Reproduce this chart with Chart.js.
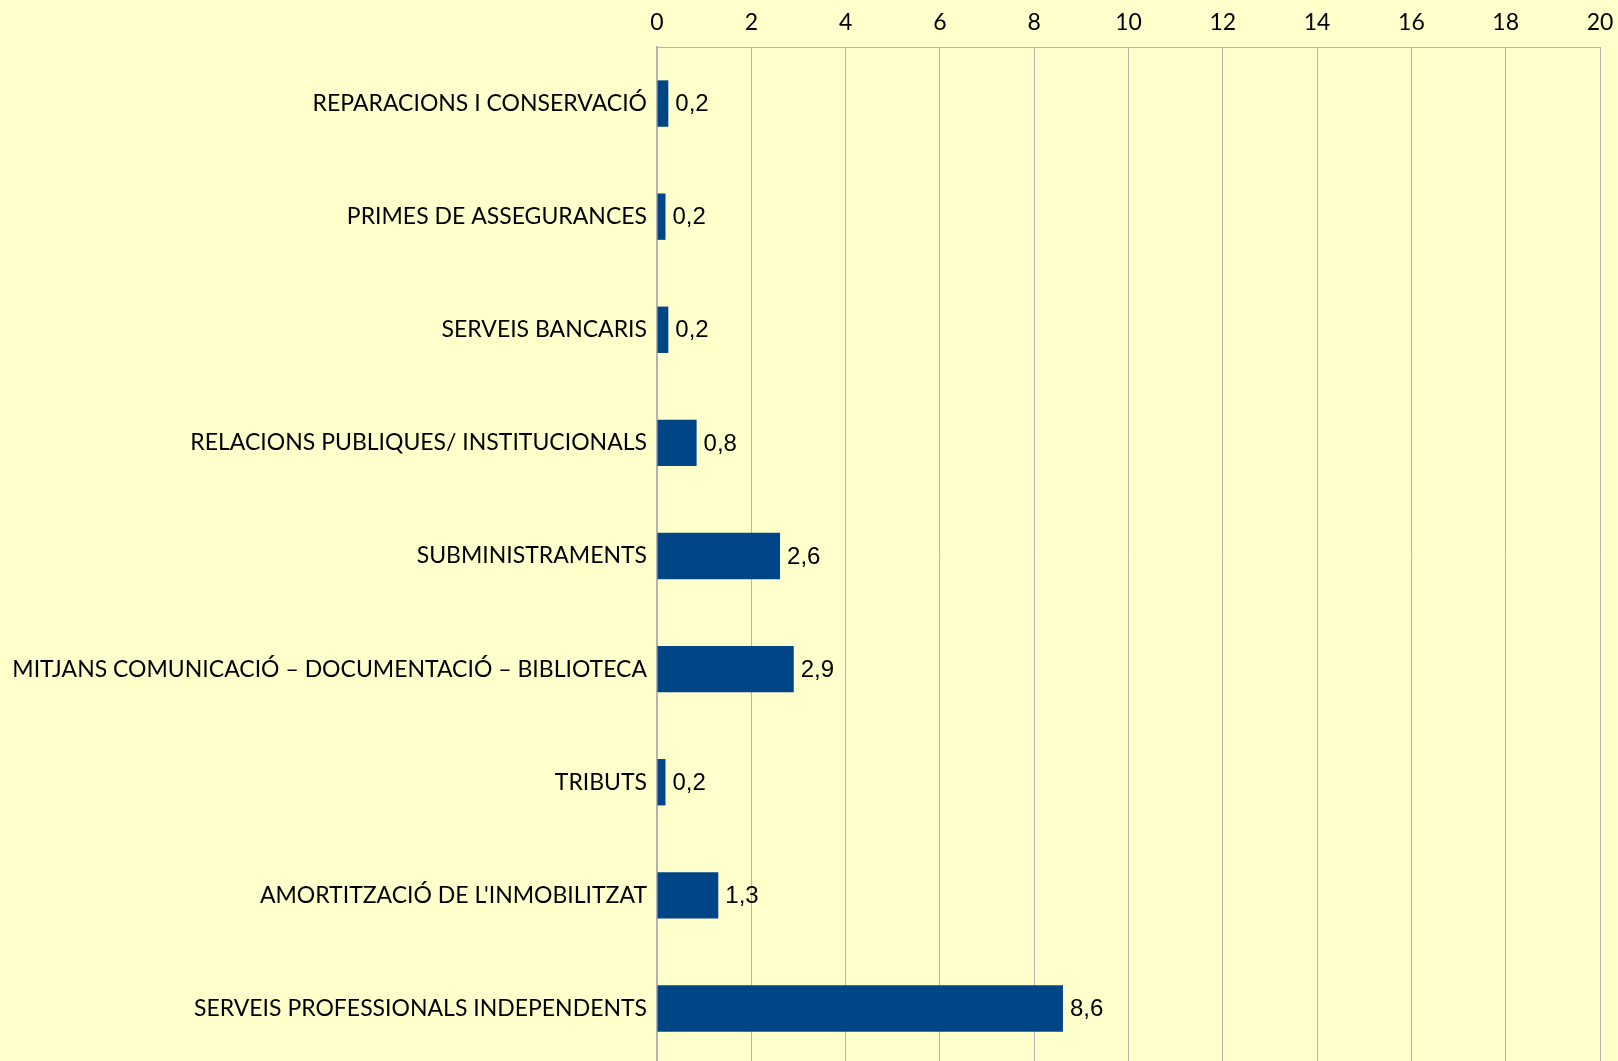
<!DOCTYPE html>
<html>
<head>
<meta charset="utf-8">
<script src="https://cdn.jsdelivr.net/npm/chart.js@4/dist/chart.umd.min.js"></script>
<style>
  html, body {
    margin: 0;
    padding: 0;
    background: #ffffcc;
    overflow: hidden;
    width: 1618px;
    height: 1061px;
  }
  .chart-wrap {
    position: relative;
    width: 1618px;
    height: 1065px;
  }
</style>
</head>
<body>
<div class="chart-wrap"><canvas id="chart"></canvas></div>
<script>
// categories, top to bottom
const categories = [
  'REPARACIONS I CONSERVACIÓ',
  'PRIMES DE ASSEGURANCES',
  'SERVEIS BANCARIS',
  'RELACIONS PUBLIQUES/ INSTITUCIONALS',
  'SUBMINISTRAMENTS',
  'MITJANS COMUNICACIÓ – DOCUMENTACIÓ – BIBLIOTECA',
  'TRIBUTS',
  "AMORTITZACIÓ DE L'INMOBILITZAT",
  'SERVEIS PROFESSIONALS INDEPENDENTS'
];

// values
const values = [0.24, 0.18, 0.24, 0.84, 2.61, 2.9, 0.18, 1.3, 8.61];

const axisMin = 0;
const axisMax = 20;
const axisStep = 2;

// value labels next to the bars, "0,2" style
const valueLabels = {
  id: 'valueLabels',
  afterDatasetsDraw(chart) {
    const ctx = chart.ctx;
    const meta = chart.getDatasetMeta(0);
    ctx.save();
    ctx.font = '24px "Liberation Sans", Arial, sans-serif';
    ctx.fillStyle = '#000';
    ctx.textAlign = 'left';
    ctx.textBaseline = 'middle';
    meta.data.forEach((bar, i) => {
      const txt = values[i].toFixed(1).replace('.', ',');
      ctx.fillText(txt, bar.x + 7, bar.y + 1);
    });
    ctx.restore();
  }
};

new Chart(document.getElementById('chart'), {
  type: 'bar',
  data: {
    labels: categories,
    datasets: [{
      data: values,
      backgroundColor: '#004586',
      borderWidth: 0,
      categoryPercentage: 1,
      barPercentage: 0.41
    }]
  },
  options: {
    indexAxis: 'y',
    responsive: true,
    maintainAspectRatio: false,
    animation: false,
    layout: { padding: { left: 0, right: 18, top: 0, bottom: 0 } },
    plugins: {
      legend: { display: false },
      tooltip: { enabled: false }
    },
    scales: {
      x: {
        position: 'top',
        min: axisMin,
        max: axisMax,
        afterFit(scale) {
          scale.height = 47;
          scale.paddingLeft = 0;
          scale.paddingRight = 0;
        },
        grid: { color: '#b3b3b3', lineWidth: 1, drawTicks: false },
        border: { color: '#b3b3b3', width: 1 },
        ticks: {
          stepSize: axisStep,
          padding: 11,
          color: '#000',
          font: { family: 'Lato', size: 23 }
        }
      },
      y: {
        afterFit(scale) {
          scale.width = 657;
          // no extra room above/below the category band
          scale.paddingTop = 0;
          scale.paddingBottom = 0;
        },
        grid: { display: false, drawTicks: false },
        border: { color: '#b3b3b3', width: 2 },
        ticks: {
          padding: 10,
          color: '#000',
          font: { family: 'Lato', size: 23 }
        }
      }
    }
  },
  plugins: [valueLabels]
});
</script>
</body>
</html>
